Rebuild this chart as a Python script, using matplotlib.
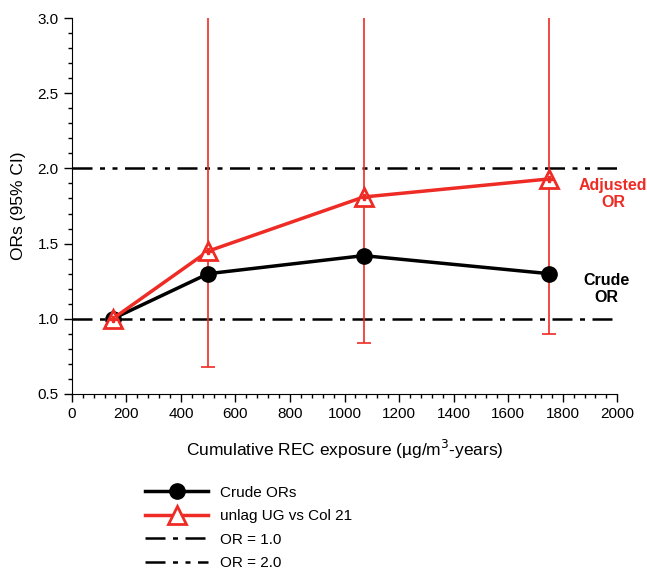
import matplotlib
matplotlib.use("Agg")
import matplotlib.pyplot as plt
from matplotlib.ticker import MultipleLocator
from matplotlib.lines import Line2D

exposure = [150, 500, 1070, 1750]
crude_or = [1.0, 1.30, 1.42, 1.30]
adj_or = [1.0, 1.45, 1.81, 1.93]
adj_lower = [1.0, 0.68, 0.84, 0.90]
adj_upper = [1.0, 4.5, 4.5, 4.5]
ref_lines = [1.0, 2.0]

plt.rcParams['font.family'] = ['Liberation Sans', 'DejaVu Sans']

fig = plt.figure(figsize=(6.47, 5.69), dpi=100)
ax = fig.add_axes([0.111, 0.3076, 0.843, 0.6607])

red = '#ee2b24'
yerr = [[a - l for a, l in zip(adj_or, adj_lower)], [u - a for a, u in zip(adj_or, adj_upper)]]
ax.errorbar(exposure[1:], adj_or[1:], yerr=[yerr[0][1:], yerr[1][1:]], fmt='none',
            ecolor=red, elinewidth=1.2, capsize=5, capthick=1.2, zorder=2)

ax.axhline(ref_lines[0], color='black', lw=1.8, dashes=[8, 3, 2, 3], zorder=1)
ax.axhline(ref_lines[1], color='black', lw=1.8, dashes=[8, 3, 2, 3, 2, 3], zorder=1)

ax.plot(exposure, crude_or, color='black', lw=2.5, marker='o', ms=11, zorder=3)
ax.plot(exposure, adj_or, color=red, lw=2.5, marker='^', ms=13, mfc='white', mec=red, mew=2, zorder=4)
ax.plot(exposure, adj_or, ls='none', marker='P', ms=5, color=red, zorder=5)

ax.set_xlim(0, 2000)
ax.set_ylim(0.5, 3.0)
ax.xaxis.set_major_locator(MultipleLocator(200))
ax.xaxis.set_minor_locator(MultipleLocator(40))
ax.yaxis.set_major_locator(MultipleLocator(0.5))
ax.yaxis.set_minor_locator(MultipleLocator(0.1))
ax.yaxis.set_major_formatter(matplotlib.ticker.FormatStrFormatter('%.1f'))
ax.spines['top'].set_visible(False)
ax.spines['right'].set_visible(False)
ax.tick_params(which='major', length=6, width=1, labelsize=11, direction='out')
ax.tick_params(which='minor', length=3, width=1)
ax.set_xlabel('Cumulative REC exposure (µg/m$^3$-years)', fontsize=12.5, labelpad=12)
ax.set_ylabel('ORs (95% CI)', fontsize=12.5, labelpad=8)

ax.text(1985, 1.83, 'Adjusted\nOR', color=red, fontsize=11.5, fontweight='bold',
        ha='center', va='center', linespacing=1.15)
ax.text(1960, 1.20, 'Crude\nOR', color='black', fontsize=11.5, fontweight='bold',
        ha='center', va='center', linespacing=1.15)

handles = [
    Line2D([], [], color='black', lw=2.5, marker='o', ms=11),
    Line2D([], [], color=red, lw=2.5, marker='^', ms=13, mfc='white', mec=red, mew=2),
    Line2D([], [], color='black', lw=1.8, dashes=[8, 3, 2, 3]),
    Line2D([], [], color='black', lw=1.8, dashes=[8, 3, 2, 3, 2, 3]),
]
labels = ['Crude ORs', 'unlag UG vs Col 21', 'OR = 1.0', 'OR = 2.0']
fig.legend(handles, labels, loc='upper left', bbox_to_anchor=(0.215, 0.157), frameon=False,
           fontsize=11, handlelength=4.1, labelspacing=0.62, borderaxespad=0)

fig.savefig('out.png', dpi=100)
